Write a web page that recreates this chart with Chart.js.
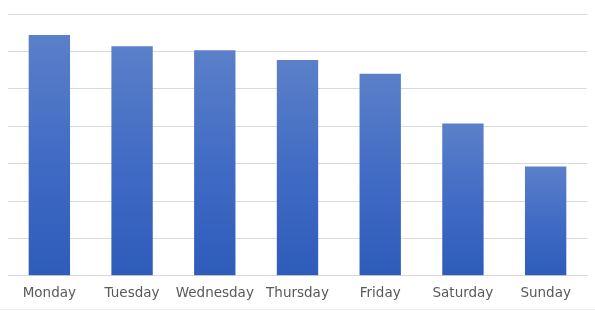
<!DOCTYPE html>
<html>
<head>
<meta charset="utf-8">
<script src="https://cdn.jsdelivr.net/npm/chart.js@4"></script>
<style>
  html, body { margin: 0; padding: 0; background: #ffffff; }
  #wrap { position: relative; width: 595px; height: 311px; }
  #wrap::after { content: ""; position: absolute; left: 0; right: 0; top: 309px; height: 1px; background: #eeeeee; }
</style>
</head>
<body>
<div id="wrap"><canvas id="c" width="595" height="311"></canvas></div>
<script>
const categories = ["Monday", "Tuesday", "Wednesday", "Thursday", "Friday", "Saturday", "Sunday"];
const values = [6.44, 6.14, 6.03, 5.77, 5.40, 4.07, 2.92];
const yMin = 0;
const yMax = 7;
const yStep = 1;

function barGradient(ctx) {
  const chart = ctx.chart;
  const area = chart.chartArea;
  if (!area) return '#4a72c4';
  const ys = chart.scales.y;
  const v = ctx.raw;
  const top = ys.getPixelForValue(v);
  const bottom = ys.getPixelForValue(0);
  const g = chart.ctx.createLinearGradient(0, top, 0, bottom);
  g.addColorStop(0, '#5b80c9');
  g.addColorStop(0.55, '#3f6ac4');
  g.addColorStop(1, '#2e5cba');
  return g;
}

new Chart(document.getElementById('c'), {
  type: 'bar',
  data: {
    labels: categories,
    datasets: [{
      data: values,
      backgroundColor: barGradient,
      borderWidth: 0,
      barPercentage: 1.0,
      categoryPercentage: 0.5
    }]
  },
  options: {
    responsive: false,
    animation: false,
    devicePixelRatio: 1,
    layout: { padding: { left: 8, right: 8, top: 14, bottom: -1 } },
    plugins: { legend: { display: false }, tooltip: { enabled: false } },
    scales: {
      x: {
        grid: { display: true, drawOnChartArea: false, drawTicks: false },
        border: { display: true, color: '#d9d9d9', width: 1 },
        ticks: {
          color: '#595959',
          padding: 10,
          font: { family: 'DejaVu Sans', size: 13.5 },
          maxRotation: 0,
          autoSkip: false
        }
      },
      y: {
        min: yMin,
        max: yMax,
        ticks: { display: false, stepSize: yStep },
        grid: { color: '#d9d9d9', lineWidth: 1, drawTicks: false },
        border: { display: false }
      }
    }
  }
});
</script>
</body>
</html>
